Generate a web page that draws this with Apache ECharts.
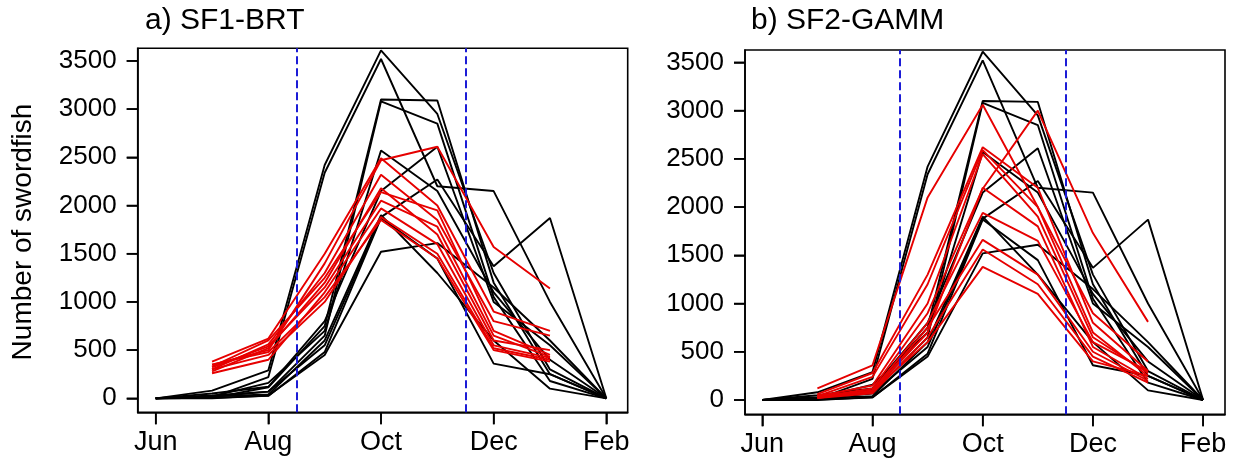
<!DOCTYPE html>
<html><head><meta charset="utf-8">
<script src="https://cdn.jsdelivr.net/npm/echarts@6/dist/echarts.min.js"></script>
<style>html,body{margin:0;padding:0;background:#fff}#c{width:1252px;height:466px}</style>
</head><body><div id="c"></div><script>
// Months Jun..Feb (index 0..8)
const months = ['Jun','Jul','Aug','Sep','Oct','Nov','Dec','Jan','Feb'];
const tickMonths = [0, 2, 4, 6, 8];
const yTicks = [0, 500, 1000, 1500, 2000, 2500, 3000, 3500];
const seasonBounds = [2.5, 5.5];
const panelTitles = ['a) SF1-BRT', 'b) SF2-GAMM'];
const yAxisTitle = 'Number of swordfish';

// Observed (black), Jun..Feb, one line per year
const obs1  = [0, 80, 290, 2420, 3610, 2950, 1300, 300, 0];
const obs2  = [0, 10, 220, 2340, 3520, 2200, 2150, 1000, 0];
const obs3  = [0, 5, 115, 750, 3100, 3090, 1200, 250, 0];
const obs4  = [0, 15, 70, 650, 3080, 2850, 1050, 180, 0];
const obs5  = [0, 20, 160, 700, 2570, 2150, 1100, 400, 0];
const obs6  = [0, 50, 120, 800, 2150, 2610, 1000, 550, 0];
const obs7  = [0, 30, 70, 550, 1880, 2270, 1370, 1870, 0];
const obs8  = [0, 20, 40, 600, 1900, 1300, 600, 100, 0];
const obs9  = [0, 5, 25, 480, 1870, 1450, 360, 250, 0];
const obs10 = [0, 0, 30, 450, 1520, 1610, 1150, 600, 0];
const observed = [obs1, obs2, obs3, obs4, obs5, obs6, obs7, obs8, obs9, obs10];

// Predicted (red), Jul..Jan
const brt1 = [350, 500, 1400, 2470, 2610, 1570, 1140];
const brt2 = [380, 620, 1500, 2490, 2000, 900, 700];
const brt3 = [300, 560, 1300, 2320, 1850, 800, 650];
const brt4 = [280, 520, 1200, 2180, 1700, 600, 500];
const brt5 = [330, 600, 1250, 2140, 1950, 700, 450];
const brt6 = [260, 400, 1100, 1970, 1600, 550, 420];
const brt7 = [300, 450, 1000, 1880, 1500, 520, 400];
const brt8 = [350, 480, 1050, 1850, 1450, 500, 380];
const brt9 = [320, 540, 1150, 2050, 1780, 650, 430];
const predBRT = [brt1, brt2, brt3, brt4, brt5, brt6, brt7, brt8, brt9];

const gam1  = [120, 360, 2100, 3060, 2000, 900, 400];
const gam2  = [60, 280, 1300, 2620, 2200, 800, 300];
const gam3  = [40, 240, 1200, 2590, 2000, 700, 250];
const gam4  = [30, 120, 900, 2190, 3000, 1730, 810];
const gam5  = [20, 100, 800, 1940, 1650, 600, 300];
const gam6  = [50, 80, 750, 1660, 1300, 500, 200];
const gam7  = [20, 70, 650, 1560, 1200, 450, 180];
const gam8  = [30, 100, 600, 1380, 1100, 400, 250];
const gam9  = [25, 90, 700, 2200, 1800, 550, 220];
const gam10 = [40, 150, 1000, 2550, 1900, 650, 280];
const predGAMM = [gam1, gam2, gam3, gam4, gam5, gam6, gam7, gam8, gam9, gam10];
const predStart = 1; // Jul

const FONT = "'Liberation Sans', Arial, sans-serif";
const chart = echarts.init(document.getElementById('c'));

const gridBoxes = [[137.7, 48.3, 490, 364], [745, 50, 480, 364.3]];
const xRanges = [[-0.32, 8.38], [-0.314, 8.397]];
const yRanges = [[-145, 3631], [-148, 3628]];

const gridOpts = gridBoxes.map(b => ({left: b[0], top: b[1], width: b[2], height: b[3], show: true, borderColor: '#000', borderWidth: 1.6}));

const xAxes = xRanges.map((r, i) => ({
  type: 'value', gridIndex: i, min: r[0], max: r[1],
  axisLine: {show: true, onZero: false, lineStyle: {color: '#000', width: 1.6}},
  splitLine: {show: false},
  axisTick: {show: true, customValues: tickMonths, length: 12, lineStyle: {color: '#000', width: 1.6}},
  axisLabel: {customValues: tickMonths, formatter: v => months[Math.round(v)], fontSize: 27, color: '#000', fontFamily: FONT, margin: 17}
}));
const yAxes = yRanges.map((r, i) => ({
  type: 'value', gridIndex: i, min: r[0], max: r[1],
  axisLine: {show: true, onZero: false, lineStyle: {color: '#000', width: 1.6}},
  splitLine: {show: false},
  axisTick: {show: true, customValues: yTicks, length: 11, lineStyle: {color: '#000', width: 1.6}},
  axisLabel: {customValues: yTicks, formatter: v => String(Math.round(v)), fontSize: 26, color: '#000', fontFamily: FONT, margin: 21}
}));

const series = [];
function addPanel(idx, preds) {
  observed.forEach((arr, k) => {
    const s = {
      type: 'line', xAxisIndex: idx, yAxisIndex: idx, symbol: 'none', silent: true,
      lineStyle: {color: '#000', width: 1.9}, z: 3,
      data: arr.map((v, m) => [m, v])
    };
    if (k === 0) {
      s.markLine = {
        symbol: 'none', silent: true, label: {show: false},
        lineStyle: {color: '#1c1cd6', type: 'dashed', width: 2},
        data: seasonBounds.map(b => ({xAxis: b}))
      };
    }
    series.push(s);
  });
  preds.forEach(arr => {
    series.push({
      type: 'line', xAxisIndex: idx, yAxisIndex: idx, symbol: 'none', silent: true,
      lineStyle: {color: '#e60000', width: 1.9}, z: 4,
      data: arr.map((v, m) => [m + predStart, v])
    });
  });
}
addPanel(0, predBRT);
addPanel(1, predGAMM);

chart.setOption({
  animation: false,
  title: [
    {text: panelTitles[0], left: 140, top: 1, textStyle: {fontSize: 30, fontWeight: 'normal', color: '#000', fontFamily: FONT}},
    {text: panelTitles[1], left: 746, top: 1, textStyle: {fontSize: 30, fontWeight: 'normal', color: '#000', fontFamily: FONT}}
  ],
  grid: gridOpts, xAxis: xAxes, yAxis: yAxes, series: series
});

// Backup outward ticks + y title as graphic elements, positioned through the axes' scales
const els = [];
for (let i = 0; i < 2; i++) {
  const xMin = xRanges[i][0], yMin = yRanges[i][0];
  tickMonths.forEach(m => {
    const p = chart.convertToPixel({xAxisIndex: i, yAxisIndex: i}, [m, yMin]);
    if (p && isFinite(p[0]) && isFinite(p[1])) {
      els.push({type: 'line', z: 100, shape: {x1: p[0], y1: p[1], x2: p[0], y2: p[1] + 12}, style: {stroke: '#000', lineWidth: 1.6}});
    }
  });
  yTicks.forEach(v => {
    const p = chart.convertToPixel({xAxisIndex: i, yAxisIndex: i}, [xMin, v]);
    if (p && isFinite(p[0]) && isFinite(p[1])) {
      els.push({type: 'line', z: 100, shape: {x1: p[0] - 11, y1: p[1], x2: p[0], y2: p[1]}, style: {stroke: '#000', lineWidth: 1.6}});
    }
  });
}
els.push({
  type: 'text', x: 23, y: 232, rotation: Math.PI / 2,
  style: {text: yAxisTitle, fontSize: 28, fill: '#000', fontFamily: FONT, align: 'center', verticalAlign: 'middle'}
});
chart.setOption({graphic: els});
</script></body></html>
